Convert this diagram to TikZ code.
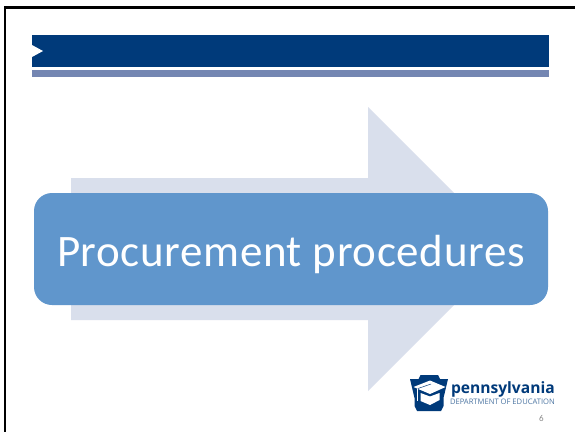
\documentclass[tikz,border=0pt]{standalone}
\usepackage{fontspec}
\setmainfont{Carlito}
\newfontfamily\titlefont[LetterSpace=1.4]{Carlito}
\newfontfamily\logofont{Open Sans}
\definecolor{navy}{HTML}{003A7A}
\definecolor{slate}{HTML}{7486B2}
\definecolor{pale}{HTML}{D9DFEC}
\definecolor{boxblue}{HTML}{6096CC}
\definecolor{pagegrey}{HTML}{8A8A8A}
\tikzset{
  flat/.style={draw=none,fill=#1},
  label text/.style={inner sep=0pt,outer sep=0pt,anchor=base west},
}
\begin{document}
\begin{tikzpicture}[x=1pt,y=-1pt]
\useasboundingbox (0,0) rectangle (575,432);
\fill[white] (0,0) rectangle (575,432);
% slide frame
\fill[black] (4,6) rectangle (575,8.6);
\fill[black] (4,6) rectangle (6,432);
% header
\fill[navy] (32,35) rectangle (549,67);
\fill[white] (32,45) -- (43,51) -- (32,57) -- cycle;
\fill[slate] (32,70) rectangle (549,77);
% arrow
\fill[pale] (71,178) -- (368,178) -- (368,107) -- (510,249) -- (368,391) -- (368,320) -- (71,320) -- cycle;
% main box
\node[flat=boxblue,rounded corners=18pt,minimum width=514pt,minimum height=112pt,inner sep=0pt] (box) at (291,249) {};
\node[label text,text=white,font=\titlefont\fontsize{45}{45}\selectfont] (title) at (57,266) {Procurement procedures};
% logo
\fill[navy] (410,379) -- (418.5,379) -- (420.5,375) -- (438,375) -- (440,379) -- (448,379) -- (443.5,398) -- (443.5,406) -- (441,411) -- (417,411) -- (414.5,406) -- (414.5,398) -- cycle;
\fill[white] (413.5,387) -- (430,380.5) -- (445.5,387) -- (430,394) -- cycle;
\fill[white] (420.5,393) -- (430,396.5) -- (439.5,393) -- (439.5,400) -- (430,405) -- (420.5,401) -- cycle;
\draw[navy,line width=.5pt] (431,384) -- (418,388.5);
\draw[white,line width=.8pt] (417.5,389) -- (417.5,401);
\node[label text,text=navy,font=\logofont\fontsize{15.6}{15.6}\selectfont\bfseries] (pa) at (451,393) {pennsylvania};
\node[label text,text=navy!70,font=\logofont\fontsize{7.6}{7.6}\selectfont] (dept) at (450,404.5) {DEPARTMENT OF EDUCATION};
\node[label text,text=pagegrey,font=\fontsize{9}{9}\selectfont] (page) at (539,421) {6};
\end{tikzpicture}
\end{document}
